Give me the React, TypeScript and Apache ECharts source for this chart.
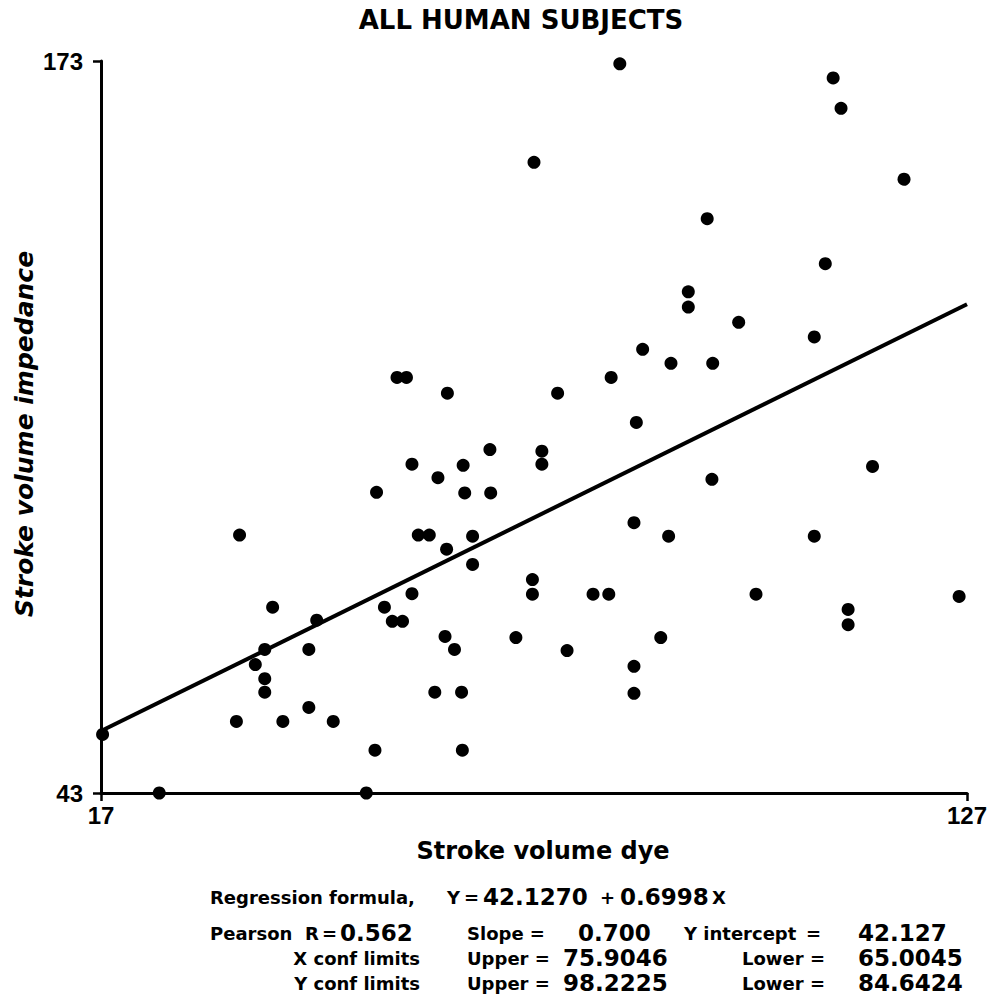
import React, { useEffect, useRef } from "react";
import * as echarts from "echarts";

// Stroke volume dye (x) and stroke volume impedance (y) for every subject
const dyeValues = [
  82.9, 110, 111, 72, 119, 94, 109, 91.6, 91.6, 98,
  107.6, 85.8, 89.4, 94.7, 81.8, 54.6, 55.8, 61, 75, 85,
  66.4, 73, 73, 56.5, 63, 115, 59.8, 94.6, 52, 63.2,
  66.5, 84.7, 34.6, 57.3, 58.7, 64.2, 89.1, 107.6, 60.9, 64.2,
  71.8, 71.8, 56.5, 79.5, 81.5, 100.2, 126, 111.9, 111.9, 38.8,
  53, 44.4, 54, 55.3, 60.7, 69.7, 88.1, 37.8, 43.4, 61.9,
  76.2, 36.6, 84.7, 37.8, 37.8, 59.4, 62.8, 84.7, 43.4, 34.2,
  40.1, 46.5, 17.2, 51.8, 62.9, 24.4, 50.7,
];
const impedanceValues = [
  172.5, 170, 164.6, 155, 152, 145, 137, 132, 129.3, 126.6,
  124, 121.8, 119.3, 119.3, 116.8, 116.8, 116.8, 114, 114, 108.8,
  104, 103.7, 101.4, 101.4, 101.2, 101, 99, 98.7, 96.4, 96.3,
  96.3, 91, 88.8, 88.8, 88.8, 88.6, 88.6, 88.6, 86.3, 83.6,
  80.9, 78.3, 78.4, 78.3, 78.3, 78.3, 77.9, 75.6, 72.9, 76,
  76, 73.7, 73.5, 73.5, 70.8, 70.6, 70.6, 68.5, 68.5, 68.5,
  68.3, 65.8, 65.5, 63.3, 60.9, 60.9, 60.9, 60.7, 58.2, 55.7,
  55.7, 55.7, 53.4, 50.6, 50.6, 43, 43,
];

// Regression line end points as drawn
const regressionX = [17, 127];
const regressionY = [54.0, 129.8];

// Axis ticks
const xTicks = [17, 127];
const yTicks = [43, 173];

const titleText = "ALL HUMAN SUBJECTS";
const xName = "Stroke volume dye";
const yName = "Stroke volume impedance";

// Statistics block: words (w) and numbers (n)
type Piece = { text: string; x: number; y: number; kind: "w" | "n"; align?: "left" | "right" };
const statsPieces: Piece[] = [
  { text: "Regression formula,", x: 210, y: 897, kind: "w" },
  { text: "Y", x: 447, y: 897, kind: "w" },
  { text: "=", x: 464, y: 897, kind: "w" },
  { text: "42.1270", x: 483, y: 897, kind: "n" },
  { text: "+", x: 600, y: 897, kind: "w" },
  { text: "0.6998", x: 620, y: 897, kind: "n" },
  { text: "X", x: 712, y: 897, kind: "w" },

  { text: "Pearson", x: 210, y: 933, kind: "w" },
  { text: "R", x: 305, y: 933, kind: "w" },
  { text: "=", x: 322, y: 933, kind: "w" },
  { text: "0.562", x: 340, y: 933, kind: "n" },
  { text: "Slope =", x: 467, y: 933, kind: "w" },
  { text: "0.700", x: 578, y: 933, kind: "n" },
  { text: "Y intercept", x: 684, y: 933, kind: "w" },
  { text: "=", x: 806, y: 933, kind: "w" },
  { text: "42.127", x: 858, y: 933, kind: "n" },

  { text: "X conf limits", x: 420, y: 958, kind: "w", align: "right" },
  { text: "Upper =", x: 467, y: 958, kind: "w" },
  { text: "75.9046", x: 563, y: 958, kind: "n" },
  { text: "Lower", x: 742, y: 958, kind: "w" },
  { text: "=", x: 810, y: 958, kind: "w" },
  { text: "65.0045", x: 858, y: 958, kind: "n" },

  { text: "Y conf limits", x: 420, y: 983, kind: "w", align: "right" },
  { text: "Upper =", x: 467, y: 983, kind: "w" },
  { text: "98.2225", x: 563, y: 983, kind: "n" },
  { text: "Lower", x: 742, y: 983, kind: "w" },
  { text: "=", x: 810, y: 983, kind: "w" },
  { text: "84.6424", x: 858, y: 983, kind: "n" },
];

export default function App() {
  const ref = useRef<HTMLDivElement>(null);
  useEffect(() => {
    if (!ref.current) return;
    const chart = echarts.init(ref.current, null, { renderer: "svg" });
    const labelFont = {
      fontFamily: "Liberation Sans",
      fontWeight: "bold" as const,
      fontSize: 24,
      color: "#000",
    };
    chart.setOption({
      animation: false,
      backgroundColor: "#fff",
      grid: { left: 101, right: 25, top: 61, bottom: 213 },
      xAxis: {
        type: "value",
        min: 17,
        max: 127,
        axisLine: { show: true, onZero: false, lineStyle: { color: "#000", width: 3 } },
        axisTick: { show: true, customValues: xTicks, length: 8, lineStyle: { color: "#000", width: 2.5 } },
        axisLabel: { customValues: xTicks, margin: 10, ...labelFont },
        splitLine: { show: false },
      },
      yAxis: {
        type: "value",
        min: 43,
        max: 173,
        axisLine: { show: true, onZero: false, lineStyle: { color: "#000", width: 3 } },
        axisTick: { show: true, customValues: yTicks, length: 8, lineStyle: { color: "#000", width: 2.5 } },
        axisLabel: { customValues: yTicks, margin: 18, ...labelFont },
        splitLine: { show: false },
      },
      series: [
        {
          type: "line",
          data: regressionX.map((x, i) => [x, regressionY[i]]),
          showSymbol: false,
          lineStyle: { color: "#000", width: 4 },
          z: 2,
        },
        {
          type: "scatter",
          data: dyeValues.map((x, i) => [x, impedanceValues[i]]),
          symbol: "circle",
          symbolSize: 13,
          itemStyle: { color: "#000", opacity: 1 },
          clip: false,
          z: 3,
        },
      ],
      graphic: [
        {
          type: "text",
          x: 521,
          y: 20,
          style: {
            text: titleText,
            align: "center",
            verticalAlign: "middle",
            fontFamily: "DejaVu Sans",
            fontWeight: "bold",
            fontSize: 26,
            fill: "#000",
          },
        },
        {
          type: "text",
          x: 543,
          y: 851,
          style: {
            text: xName,
            align: "center",
            verticalAlign: "middle",
            fontFamily: "DejaVu Sans",
            fontWeight: "bold",
            fontSize: 24,
            fill: "#000",
          },
        },
        {
          type: "text",
          x: 24,
          y: 434,
          rotation: Math.PI / 2,
          style: {
            text: yName,
            align: "center",
            verticalAlign: "middle",
            fontFamily: "DejaVu Sans",
            fontWeight: "bold",
            fontStyle: "oblique",
            fontSize: 25,
            fill: "#000",
          },
        },
        ...statsPieces.map((p) => ({
          type: "text",
          x: p.x,
          y: p.y,
          style: {
            text: p.text,
            align: p.align || "left",
            verticalAlign: "middle",
            fontFamily: "DejaVu Sans",
            fontWeight: "bold",
            fontSize: p.kind === "n" ? 23 : 18,
            fill: "#000",
          },
        })),
      ],
    });
    return () => chart.dispose();
  }, []);
  return (
    <div
      ref={ref}
      style={{ position: "absolute", left: 0, top: 0, width: 992, height: 1006, background: "#fff" }}
    />
  );
}
